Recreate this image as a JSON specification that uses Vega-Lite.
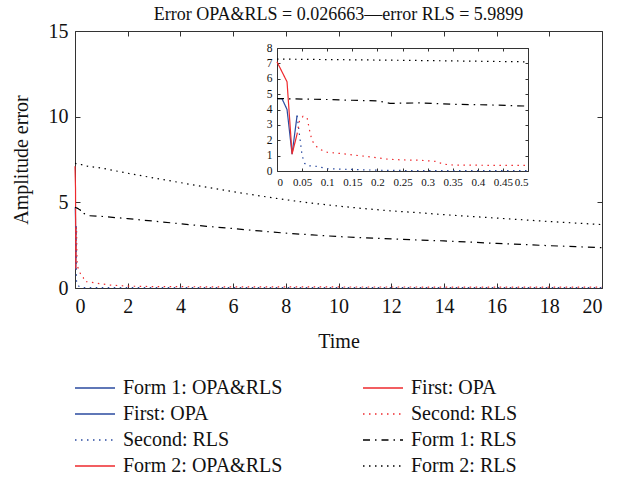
{
  "$schema": "https://vega.github.io/schema/vega-lite/v6.json",
  "width": 527,
  "height": 257,
  "autosize": {"type": "none"},
  "padding": {"left": 75, "top": 31, "right": 26, "bottom": 191},
  "background": "white",
  "config": {
    "font": "Liberation Serif",
    "view": {"stroke": null},
    "axis": {
      "grid": false,
      "domainColor": "#333",
      "tickColor": "#333",
      "labelColor": "#111",
      "titleColor": "#111",
      "labelFont": "Liberation Serif",
      "titleFont": "Liberation Serif",
      "titleFontWeight": "normal"
    }
  },
  "title": {
    "text": "Error OPA&RLS = 0.026663—error RLS = 5.9899",
    "fontSize": 18,
    "font": "Liberation Serif",
    "fontWeight": "normal",
    "color": "#111",
    "frame": "group",
    "offset": -3,
    "anchor": "middle"
  },
  "datasets": {
    "err": [
      {"time": 0, "error": 4.7, "series": "First: OPA (b)"},
      {"time": 0.01, "error": 4.7, "series": "First: OPA (b)"},
      {"time": 0.02, "error": 4.0, "series": "First: OPA (b)"},
      {"time": 0.03, "error": 1.1, "series": "First: OPA (b)"},
      {"time": 0.04, "error": 3.6, "series": "First: OPA (b)"},

      {"time": 0, "error": 7.1, "series": "First: OPA (r)"},
      {"time": 0.02, "error": 5.8, "series": "First: OPA (r)"},
      {"time": 0.03, "error": 1.1, "series": "First: OPA (r)"},
      {"time": 0.04, "error": 2.4, "series": "First: OPA (r)"},

      {"time": 0.04, "error": 3.6, "series": "Second: RLS (b)"},
      {"time": 0.045, "error": 2.3, "series": "Second: RLS (b)"},
      {"time": 0.05, "error": 1.0, "series": "Second: RLS (b)"},
      {"time": 0.055, "error": 0.5, "series": "Second: RLS (b)"},
      {"time": 0.06, "error": 0.35, "series": "Second: RLS (b)"},
      {"time": 0.08, "error": 0.3, "series": "Second: RLS (b)"},
      {"time": 0.1, "error": 0.15, "series": "Second: RLS (b)"},
      {"time": 0.15, "error": 0.1, "series": "Second: RLS (b)"},
      {"time": 0.2, "error": 0.05, "series": "Second: RLS (b)"},
      {"time": 0.3, "error": 0.02, "series": "Second: RLS (b)"},
      {"time": 0.5, "error": 0.02, "series": "Second: RLS (b)"},
      {"time": 1, "error": 0.02, "series": "Second: RLS (b)"},
      {"time": 20, "error": 0.02, "series": "Second: RLS (b)"},

      {"time": 0.04, "error": 2.4, "series": "Second: RLS (r)"},
      {"time": 0.045, "error": 3.3, "series": "Second: RLS (r)"},
      {"time": 0.052, "error": 3.56, "series": "Second: RLS (r)"},
      {"time": 0.06, "error": 3.46, "series": "Second: RLS (r)"},
      {"time": 0.063, "error": 2.96, "series": "Second: RLS (r)"},
      {"time": 0.066, "error": 2.46, "series": "Second: RLS (r)"},
      {"time": 0.07, "error": 1.97, "series": "Second: RLS (r)"},
      {"time": 0.077, "error": 1.64, "series": "Second: RLS (r)"},
      {"time": 0.086, "error": 1.4, "series": "Second: RLS (r)"},
      {"time": 0.1, "error": 1.22, "series": "Second: RLS (r)"},
      {"time": 0.12, "error": 1.16, "series": "Second: RLS (r)"},
      {"time": 0.15, "error": 1.05, "series": "Second: RLS (r)"},
      {"time": 0.185, "error": 0.92, "series": "Second: RLS (r)"},
      {"time": 0.22, "error": 0.77, "series": "Second: RLS (r)"},
      {"time": 0.25, "error": 0.72, "series": "Second: RLS (r)"},
      {"time": 0.285, "error": 0.7, "series": "Second: RLS (r)"},
      {"time": 0.318, "error": 0.62, "series": "Second: RLS (r)"},
      {"time": 0.33, "error": 0.45, "series": "Second: RLS (r)"},
      {"time": 0.35, "error": 0.39, "series": "Second: RLS (r)"},
      {"time": 0.42, "error": 0.37, "series": "Second: RLS (r)"},
      {"time": 0.5, "error": 0.36, "series": "Second: RLS (r)"},
      {"time": 0.75, "error": 0.3, "series": "Second: RLS (r)"},
      {"time": 1, "error": 0.24, "series": "Second: RLS (r)"},
      {"time": 1.35, "error": 0.17, "series": "Second: RLS (r)"},
      {"time": 2, "error": 0.11, "series": "Second: RLS (r)"},
      {"time": 3, "error": 0.08, "series": "Second: RLS (r)"},
      {"time": 5, "error": 0.07, "series": "Second: RLS (r)"},
      {"time": 10, "error": 0.06, "series": "Second: RLS (r)"},
      {"time": 20, "error": 0.05, "series": "Second: RLS (r)"},

      {"time": 0, "error": 4.71, "series": "Form 1: RLS"},
      {"time": 0.1, "error": 4.65, "series": "Form 1: RLS"},
      {"time": 0.15, "error": 4.6, "series": "Form 1: RLS"},
      {"time": 0.2, "error": 4.56, "series": "Form 1: RLS"},
      {"time": 0.225, "error": 4.4, "series": "Form 1: RLS"},
      {"time": 0.285, "error": 4.43, "series": "Form 1: RLS"},
      {"time": 0.35, "error": 4.34, "series": "Form 1: RLS"},
      {"time": 0.42, "error": 4.3, "series": "Form 1: RLS"},
      {"time": 0.5, "error": 4.22, "series": "Form 1: RLS"},
      {"time": 1, "error": 4.18, "series": "Form 1: RLS"},
      {"time": 2, "error": 4.05, "series": "Form 1: RLS"},
      {"time": 3, "error": 3.9, "series": "Form 1: RLS"},
      {"time": 4, "error": 3.75, "series": "Form 1: RLS"},
      {"time": 5, "error": 3.6, "series": "Form 1: RLS"},
      {"time": 6, "error": 3.47, "series": "Form 1: RLS"},
      {"time": 7, "error": 3.33, "series": "Form 1: RLS"},
      {"time": 8, "error": 3.2, "series": "Form 1: RLS"},
      {"time": 9, "error": 3.1, "series": "Form 1: RLS"},
      {"time": 10, "error": 3.0, "series": "Form 1: RLS"},
      {"time": 11, "error": 2.93, "series": "Form 1: RLS"},
      {"time": 12, "error": 2.87, "series": "Form 1: RLS"},
      {"time": 13, "error": 2.8, "series": "Form 1: RLS"},
      {"time": 14, "error": 2.75, "series": "Form 1: RLS"},
      {"time": 15, "error": 2.68, "series": "Form 1: RLS"},
      {"time": 16, "error": 2.6, "series": "Form 1: RLS"},
      {"time": 17, "error": 2.54, "series": "Form 1: RLS"},
      {"time": 18, "error": 2.47, "series": "Form 1: RLS"},
      {"time": 19, "error": 2.41, "series": "Form 1: RLS"},
      {"time": 20, "error": 2.35, "series": "Form 1: RLS"},

      {"time": 0, "error": 7.28, "series": "Form 2: RLS"},
      {"time": 0.25, "error": 7.2, "series": "Form 2: RLS"},
      {"time": 0.5, "error": 7.1, "series": "Form 2: RLS"},
      {"time": 1, "error": 7.0, "series": "Form 2: RLS"},
      {"time": 2, "error": 6.7, "series": "Form 2: RLS"},
      {"time": 3, "error": 6.42, "series": "Form 2: RLS"},
      {"time": 4, "error": 6.15, "series": "Form 2: RLS"},
      {"time": 5, "error": 5.88, "series": "Form 2: RLS"},
      {"time": 6, "error": 5.62, "series": "Form 2: RLS"},
      {"time": 7, "error": 5.38, "series": "Form 2: RLS"},
      {"time": 8, "error": 5.15, "series": "Form 2: RLS"},
      {"time": 9, "error": 4.95, "series": "Form 2: RLS"},
      {"time": 10, "error": 4.78, "series": "Form 2: RLS"},
      {"time": 11, "error": 4.63, "series": "Form 2: RLS"},
      {"time": 12, "error": 4.5, "series": "Form 2: RLS"},
      {"time": 13, "error": 4.4, "series": "Form 2: RLS"},
      {"time": 14, "error": 4.28, "series": "Form 2: RLS"},
      {"time": 15, "error": 4.18, "series": "Form 2: RLS"},
      {"time": 16, "error": 4.08, "series": "Form 2: RLS"},
      {"time": 17, "error": 3.98, "series": "Form 2: RLS"},
      {"time": 18, "error": 3.88, "series": "Form 2: RLS"},
      {"time": 19, "error": 3.79, "series": "Form 2: RLS"},
      {"time": 20, "error": 3.7, "series": "Form 2: RLS"}
    ]
  },
  "data": {"name": "err"},
  "layer": [
    {
      "mark": {"type": "line", "strokeWidth": 1.2, "strokeCap": "butt"},
      "encoding": {
        "x": {
          "field": "time", "type": "quantitative",
          "scale": {"domain": [0, 20], "nice": false, "zero": false},
          "axis": {
            "orient": "bottom", "values": [0, 2, 4, 6, 8, 10, 12, 14, 16, 18, 20],
            "tickSize": -5, "labelPadding": 13, "labelFontSize": 20,
            "title": "Time", "titleFontSize": 20, "titlePadding": 15
          }
        },
        "y": {
          "field": "error", "type": "quantitative",
          "scale": {"domain": [0, 15], "nice": false, "zero": false},
          "axis": {
            "orient": "left", "values": [0, 5, 10, 15],
            "tickSize": -5, "labelPadding": 12, "labelFontSize": 20,
            "title": "Amplitude error", "titleFontSize": 20, "titlePadding": 17
          }
        },
        "color": {
          "field": "series", "type": "nominal",
          "scale": {
            "domain": ["Form 1: OPA&RLS", "First: OPA (b)", "Second: RLS (b)", "Form 2: OPA&RLS", "First: OPA (r)", "Second: RLS (r)", "Form 1: RLS", "Form 2: RLS"],
            "range": ["#2b4ba0", "#2b4ba0", "#2b4ba0", "#ee2a2e", "#ee2a2e", "#ee2a2e", "#000000", "#000000"]
          },
          "legend": {
            "orient": "none", "legendX": -5, "legendY": 347,
            "columns": 2, "columnPadding": 75, "rowPadding": 6,
            "symbolType": "M-1,0H7", "symbolSize": 100, "symbolStrokeWidth": 1.3,
            "symbolFillColor": "transparent",
            "labelOffset": 33, "labelFontSize": 20, "labelFont": "Liberation Serif",
            "labelColor": "#111", "labelLimit": 300, "title": null,
            "labelExpr": "split(datum.label, ' (')[0]"
          }
        },
        "strokeDash": {
          "field": "series", "type": "nominal",
          "scale": {
            "domain": ["Form 1: OPA&RLS", "First: OPA (b)", "Second: RLS (b)", "Form 2: OPA&RLS", "First: OPA (r)", "Second: RLS (r)", "Form 1: RLS", "Form 2: RLS"],
            "range": [[1, 0], [1, 0], [1.5, 4.5], [1, 0], [1, 0], [1.5, 4.5], [7, 5, 1.5, 5], [1.5, 4.5]]
          },
          "legend": {
            "orient": "none", "legendX": -5, "legendY": 347,
            "columns": 2, "columnPadding": 75, "rowPadding": 6,
            "symbolType": "M-1,0H7", "symbolSize": 100, "symbolStrokeWidth": 1.3,
            "symbolFillColor": "transparent",
            "labelOffset": 33, "labelFontSize": 20, "labelFont": "Liberation Serif",
            "labelColor": "#111", "labelLimit": 300, "title": null,
            "labelExpr": "split(datum.label, ' (')[0]"
          }
        }
      }
    },
    {
      "mark": {"type": "point", "opacity": 0},
      "encoding": {
        "x": {
          "field": "time", "type": "quantitative",
          "scale": {"domain": [0, 20], "nice": false, "zero": false},
          "axis": {"orient": "top", "values": [0, 2, 4, 6, 8, 10, 12, 14, 16, 18, 20], "tickSize": -5, "labels": false, "title": null}
        },
        "y": {
          "field": "error", "type": "quantitative",
          "scale": {"domain": [0, 15], "nice": false, "zero": false},
          "axis": {"orient": "right", "values": [0, 5, 10, 15], "tickSize": -5, "labels": false, "title": null}
        }
      }
    },
    {
      "transform": [{"filter": "datum.time <= 0.5"}],
      "mark": {"type": "line", "strokeWidth": 1.2, "strokeCap": "butt"},
      "encoding": {
        "x": {
          "field": "time", "type": "quantitative",
          "scale": {"domain": [0, 0.5], "range": [202, 453], "nice": false, "zero": false},
          "axis": {
            "orient": "bottom", "offset": -117,
            "values": [0, 0.05, 0.1, 0.15, 0.2, 0.25, 0.3, 0.35, 0.4, 0.45, 0.5],
            "format": "~g", "tickSize": -3, "labelPadding": 8, "labelFontSize": 11,
            "title": null
          }
        },
        "y": {
          "field": "error", "type": "quantitative",
          "scale": {"domain": [0, 8], "range": [140, 17], "nice": false, "zero": false},
          "axis": {
            "orient": "left", "offset": -202,
            "values": [0, 1, 2, 3, 4, 5, 6, 7, 8],
            "tickSize": -3, "labelPadding": 8, "labelFontSize": 11.5,
            "title": null
          }
        },
        "color": {"field": "series", "type": "nominal"},
        "strokeDash": {"field": "series", "type": "nominal"}
      }
    },
    {
      "transform": [{"filter": "datum.time <= 0.5"}],
      "mark": {"type": "point", "opacity": 0},
      "encoding": {
        "x": {
          "field": "time", "type": "quantitative",
          "scale": {"domain": [0, 0.5], "range": [202, 453], "nice": false, "zero": false},
          "axis": {"orient": "top", "offset": -17, "values": [0, 0.05, 0.1, 0.15, 0.2, 0.25, 0.3, 0.35, 0.4, 0.45, 0.5], "tickSize": -3, "labels": false, "title": null}
        },
        "y": {
          "field": "error", "type": "quantitative",
          "scale": {"domain": [0, 8], "range": [140, 17], "nice": false, "zero": false},
          "axis": {"orient": "right", "offset": -74, "values": [0, 1, 2, 3, 4, 5, 6, 7, 8], "tickSize": -3, "labels": false, "title": null}
        }
      }
    }
  ],
  "resolve": {
    "scale": {"x": "independent", "y": "independent"},
    "axis": {"x": "independent", "y": "independent"}
  }
}
